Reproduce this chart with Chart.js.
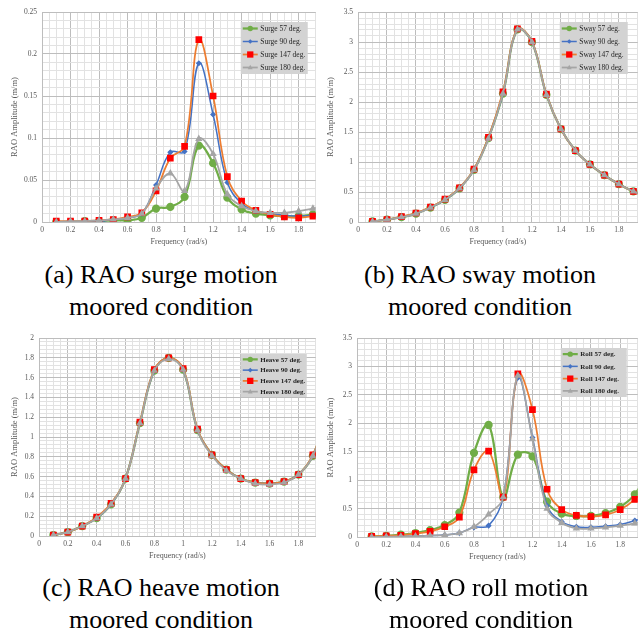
<!DOCTYPE html>
<html>
<head>
<meta charset="utf-8">
<script src="https://cdn.jsdelivr.net/npm/chart.js@4.4.1/dist/chart.umd.min.js"></script>
<style>
body { margin: 0; background: #fff; width: 644px; height: 634px; overflow: hidden; position: relative; }
.box { position: absolute; }
.cap { position: absolute; width: 322px; text-align: center; font-family: "Liberation Serif", "Times New Roman", serif; font-size: 26px; line-height: 32px; color: #000; }
</style>
</head>
<body>

<div class="box" style="left:0;top:0;width:322px;height:258px"><canvas id="surgeChart"></canvas></div>
<div class="box" style="left:322px;top:0;width:322px;height:258px"><canvas id="swayChart"></canvas></div>
<div class="box" style="left:0;top:326px;width:322px;height:246px"><canvas id="heaveChart"></canvas></div>
<div class="box" style="left:322px;top:326px;width:322px;height:247px"><canvas id="rollChart"></canvas></div>

<div class="cap" style="left:0;top:259px">(a) RAO surge motion<br>moored condition</div>
<div class="cap" style="left:319px;top:259px">(b) RAO sway motion<br>moored condition</div>
<div class="cap" style="left:0;top:572px">(c) RAO heave motion<br>moored condition</div>
<div class="cap" style="left:320px;top:572px">(d) RAO roll motion<br>moored condition</div>

<script>
// =========================================
// Data (frequency in rad/s, RAO amplitude)
// =========================================

const freq = [0.1, 0.2, 0.3, 0.4, 0.5, 0.6, 0.7, 0.8, 0.9, 1.0, 1.1, 1.2, 1.3, 1.4, 1.5, 1.6, 1.7, 1.8, 1.9, 2.0];

const headings = ["57 deg.", "90 deg.", "147 deg.", "180 deg."];

const surge57  = [0, 0, 0.001, 0.001, 0.002, 0.002, 0.005, 0.016, 0.018, 0.030, 0.091, 0.070, 0.029, 0.015, 0.010, 0.008, 0.007, 0.007, 0.009, 0.012];
const surge90  = [0, 0, 0.001, 0.001, 0.003, 0.005, 0.010, 0.044, 0.083, 0.084, 0.189, 0.128, 0.047, 0.022, 0.013, 0.010, 0.008, 0.007, 0.008, 0.010];
const surge147 = [0.001, 0.001, 0.001, 0.002, 0.003, 0.006, 0.011, 0.037, 0.076, 0.090, 0.217, 0.150, 0.054, 0.025, 0.014, 0.009, 0.006, 0.005, 0.007, 0.010];
const surge180 = [0, 0.001, 0.001, 0.002, 0.003, 0.005, 0.010, 0.040, 0.058, 0.037, 0.099, 0.081, 0.033, 0.019, 0.013, 0.011, 0.011, 0.013, 0.016, 0.020];

const sway57  = [0.01, 0.04, 0.08, 0.14, 0.24, 0.37, 0.56, 0.87, 1.40, 2.14, 3.21, 3.00, 2.12, 1.55, 1.19, 0.96, 0.78, 0.63, 0.51, 0.42];
const sway90  = [0.01, 0.04, 0.08, 0.14, 0.24, 0.37, 0.56, 0.87, 1.40, 2.14, 3.21, 3.00, 2.12, 1.55, 1.19, 0.96, 0.78, 0.63, 0.51, 0.42];
const sway147 = [0.01, 0.04, 0.09, 0.15, 0.25, 0.38, 0.57, 0.88, 1.41, 2.17, 3.22, 3.01, 2.13, 1.55, 1.19, 0.96, 0.78, 0.63, 0.51, 0.42];
const sway180 = [0.01, 0.04, 0.08, 0.14, 0.24, 0.37, 0.56, 0.87, 1.39, 2.14, 3.21, 3.00, 2.12, 1.55, 1.19, 0.96, 0.78, 0.63, 0.51, 0.42];

const heave57  = [0.01, 0.04, 0.10, 0.18, 0.32, 0.58, 1.14, 1.67, 1.80, 1.68, 1.07, 0.82, 0.67, 0.58, 0.54, 0.53, 0.55, 0.62, 0.81, 1.25];
const heave90  = [0.01, 0.04, 0.10, 0.18, 0.32, 0.58, 1.14, 1.67, 1.80, 1.68, 1.07, 0.82, 0.67, 0.58, 0.54, 0.53, 0.55, 0.62, 0.81, 1.25];
const heave147 = [0.01, 0.04, 0.10, 0.19, 0.33, 0.58, 1.15, 1.68, 1.80, 1.69, 1.08, 0.82, 0.67, 0.58, 0.54, 0.53, 0.55, 0.62, 0.82, 1.25];
const heave180 = [0.01, 0.04, 0.10, 0.18, 0.32, 0.58, 1.14, 1.67, 1.79, 1.68, 1.07, 0.81, 0.66, 0.58, 0.53, 0.52, 0.54, 0.62, 0.81, 1.25];

const roll57  = [0.01, 0.02, 0.04, 0.07, 0.12, 0.21, 0.43, 1.48, 1.97, 0.70, 1.45, 1.42, 0.62, 0.41, 0.37, 0.37, 0.42, 0.53, 0.75, 1.20];
const roll90  = [0, 0.005, 0.01, 0.015, 0.025, 0.035, 0.07, 0.17, 0.20, 0.70, 2.80, 1.75, 0.55, 0.27, 0.18, 0.17, 0.19, 0.22, 0.29, 0.38];
const roll147 = [0.01, 0.02, 0.03, 0.06, 0.10, 0.18, 0.35, 1.18, 1.51, 0.70, 2.87, 2.24, 0.84, 0.48, 0.38, 0.36, 0.39, 0.48, 0.66, 0.95];
const roll180 = [0, 0.005, 0.01, 0.015, 0.025, 0.035, 0.07, 0.18, 0.40, 0.70, 2.84, 1.72, 0.50, 0.25, 0.15, 0.15, 0.17, 0.20, 0.24, 0.30];

// =========================================
// Styles
// =========================================

const MAJOR_GRID = "#bdbdbd";
const MINOR_GRID = "#e2e2e2";
const AXIS_TEXT = "#595959";
const SERIF = '"Liberation Serif", "Times New Roman", serif';

const seriesStyle = [
    { line: "#70AD47", fill: "#70AD47", marker: "circle",   radius: 3,   width: 2.25 },
    { line: "#4472C4", fill: "#4472C4", marker: "rectRot",  radius: 2,   width: 1.5 },
    { line: "#ED7D31", fill: "#FF0000", marker: "rect",     radius: 3.5, width: 1.75 },
    { line: "#A5A5A5", fill: "#A5A5A5", marker: "triangle", radius: 2.5, width: 1.75 }
];

function isMajor(v, major) {
    const r = Math.round(v / major);
    return Math.abs(v / major - r) < 1e-6;
}

function tickLabel(major) {
    return function (v) {
        if (!isMajor(v, major)) return "";
        return String(Math.round(v * 1000) / 1000);
    };
}

// small marker drawer for the legend box
function drawMarker(ctx, style, x, y, r) {
    ctx.fillStyle = style.fill;
    ctx.strokeStyle = style.fill;
    ctx.beginPath();
    if (style.marker === "circle") {
        ctx.arc(x, y, r, 0, Math.PI * 2);
    } else if (style.marker === "rect") {
        ctx.rect(x - r, y - r, r * 2, r * 2);
    } else if (style.marker === "rectRot") {
        ctx.moveTo(x, y - r * 1.3); ctx.lineTo(x + r * 1.3, y); ctx.lineTo(x, y + r * 1.3); ctx.lineTo(x - r * 1.3, y);
        ctx.closePath();
    } else {
        ctx.moveTo(x, y - r * 1.2); ctx.lineTo(x + r * 1.1, y + r * 0.8); ctx.lineTo(x - r * 1.1, y + r * 0.8);
        ctx.closePath();
    }
    ctx.fill();
}

// grey legend box inside the plot area
const boxLegend = {
    id: "boxLegend",
    afterDraw(chart, args, opts) {
        const ctx = chart.ctx;
        const a = chart.chartArea;
        const x = a.right - opts.right - opts.width;
        const y = a.top + opts.top;
        ctx.save();
        ctx.fillStyle = "#d3d3d3";
        ctx.fillRect(x, y, opts.width, opts.height);
        const step = opts.height / chart.data.datasets.length;
        ctx.font = opts.font;
        ctx.textBaseline = "middle";
        chart.data.datasets.forEach((ds, i) => {
            const st = seriesStyle[i];
            const cy = y + step * (i + 0.5);
            ctx.strokeStyle = st.line;
            ctx.lineWidth = st.width;
            ctx.beginPath();
            ctx.moveTo(x + 2, cy);
            ctx.lineTo(x + 17, cy);
            ctx.stroke();
            drawMarker(ctx, st, x + 9.5, cy, st.radius * 0.9);
            ctx.fillStyle = "#262626";
            ctx.fillText(ds.label, x + 19.5, cy + 0.5);
        });
        ctx.restore();
    }
};

// =========================================
// Chart builder
// =========================================

function makeChart(id, name, series, cfg) {

    const datasets = series.map((values, i) => {
        const st = seriesStyle[i];
        return {
            label: name + " " + headings[i],
            data: freq.map((f, k) => ({ x: f, y: values[k] })),
            borderColor: st.line,
            backgroundColor: st.fill,
            pointBackgroundColor: st.fill,
            pointBorderColor: st.fill,
            pointStyle: st.marker,
            pointRadius: st.radius,
            borderWidth: st.width,
            tension: 0.4,
            order: series.length - i
        };
    });

    return new Chart(document.getElementById(id), {
        type: "line",
        data: { datasets: datasets },
        plugins: [boxLegend],
        options: {
            responsive: true,
            maintainAspectRatio: false,
            animation: false,
            layout: { padding: { top: cfg.padTop, right: cfg.padRight, left: 0, bottom: 0 } },
            plugins: {
                legend: { display: false },
                tooltip: { enabled: false },
                boxLegend: cfg.legend
            },
            scales: {
                x: {
                    type: "linear",
                    min: 0,
                    max: cfg.xMax,
                    afterFit: s => { s.height = 36; },
                    ticks: {
                        stepSize: 0.05,
                        autoSkip: false,
                        maxRotation: 0,
                        padding: 4,
                        color: AXIS_TEXT,
                        font: { family: SERIF, size: 7.5 },
                        callback: tickLabel(0.2)
                    },
                    grid: {
                        drawTicks: false,
                        lineWidth: 1,
                        color: c => (c.tick && isMajor(c.tick.value, 0.2)) ? MAJOR_GRID : MINOR_GRID
                    },
                    border: { color: MAJOR_GRID },
                    title: {
                        display: true,
                        text: "Frequency (rad/s)",
                        color: AXIS_TEXT,
                        font: { family: SERIF, size: 8 },
                        padding: { top: 0, bottom: 11 }
                    }
                },
                y: {
                    type: "linear",
                    min: 0,
                    max: cfg.yMax,
                    afterFit: s => { s.width = cfg.yWidth; },
                    ticks: {
                        stepSize: cfg.yMinor,
                        autoSkip: false,
                        padding: 5,
                        color: AXIS_TEXT,
                        font: { family: SERIF, size: 7.5 },
                        callback: tickLabel(cfg.yMajor)
                    },
                    grid: {
                        drawTicks: false,
                        lineWidth: 1,
                        color: c => (c.tick && isMajor(c.tick.value, cfg.yMajor)) ? MAJOR_GRID : MINOR_GRID
                    },
                    border: { color: MAJOR_GRID },
                    title: {
                        display: true,
                        text: "RAO Amplitude (m/m)",
                        color: AXIS_TEXT,
                        font: { family: SERIF, size: 8.5 },
                        padding: { top: cfg.titlePad, bottom: 0 }
                    }
                }
            }
        }
    });
}

// =========================================

makeChart("surgeChart", "Surge", [surge57, surge90, surge147, surge180], {
    xMax: 1.92, yMax: 0.25, yMajor: 0.05, yMinor: 0.01,
    yWidth: 42, padTop: 12, padRight: 1, titlePad: 10,
    legend: { width: 67, height: 52, right: 8, top: 10, font: "7.5px " + SERIF }
});

makeChart("swayChart", "Sway", [sway57, sway90, sway147, sway180], {
    xMax: 1.93, yMax: 3.5, yMajor: 0.5, yMinor: 0.1,
    yWidth: 36, padTop: 12, padRight: 3, titlePad: 4,
    legend: { width: 68, height: 52, right: 10, top: 10, font: "7.5px " + SERIF }
});

makeChart("heaveChart", "Heave", [heave57, heave90, heave147, heave180], {
    xMax: 1.92, yMax: 2, yMajor: 0.2, yMinor: 0.04,
    yWidth: 39, padTop: 12, padRight: 1, titlePad: 10,
    legend: { width: 66, height: 43, right: 9, top: 16, font: "bold 7px " + SERIF }
});

makeChart("rollChart", "Roll", [roll57, roll90, roll147, roll180], {
    xMax: 1.92, yMax: 3.5, yMajor: 0.5, yMinor: 0.1,
    yWidth: 35, padTop: 12, padRight: 3, titlePad: 4,
    legend: { width: 66, height: 49, right: 11, top: 10, font: "bold 7px " + SERIF }
});
</script>
</body>
</html>
